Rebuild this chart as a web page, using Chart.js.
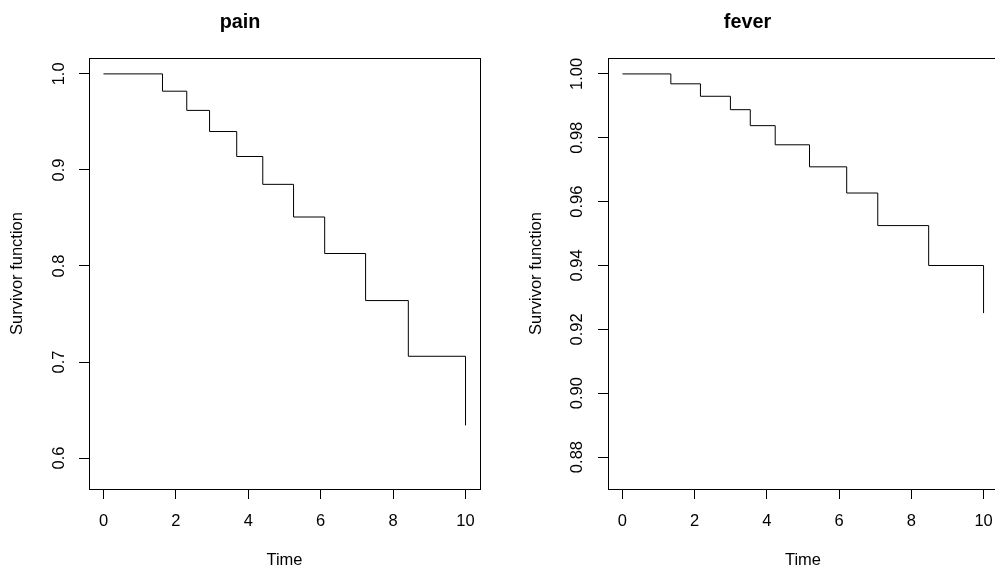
<!DOCTYPE html>
<html>
<head>
<meta charset="utf-8">
<script src="https://cdn.jsdelivr.net/npm/chart.js@4/dist/chart.umd.min.js"></script>
<style>
  html, body { margin: 0; padding: 0; background: #fff; }
  body { width: 995px; height: 571px; overflow: hidden; position: relative; }
  canvas { position: absolute; top: 0; }
  #PainCanvas { left: 0; }
  #FeverCanvas { left: 497px; }
</style>
</head>
<body>
<canvas id="PainCanvas" width="497" height="571"></canvas>
<canvas id="FeverCanvas" width="520" height="571"></canvas>
<script>
// Survivor function estimates
const xTicks = [0, 2, 4, 6, 8, 10]

const painTime = [0, 1.63, 2.30, 2.93, 3.68, 4.40, 5.25, 6.11, 7.24, 8.42, 10]
const painSurv = [1, 0.982, 0.962, 0.940, 0.914, 0.885, 0.851, 0.813, 0.764, 0.706, 0.634]
const painTicks = [0.6, 0.7, 0.8, 0.9, 1.0]
const painTickLabels = ['0.6', '0.7', '0.8', '0.9', '1.0']

const feverTime = [0, 1.34, 2.16, 2.99, 3.54, 4.23, 5.18, 6.21, 7.07, 8.48, 10]
const feverSurv = [1, 0.9969, 0.9930, 0.9888, 0.9838, 0.9778, 0.9709, 0.9627, 0.9525, 0.9400, 0.9251]
const feverTicks = [0.88, 0.90, 0.92, 0.94, 0.96, 0.98, 1.00]
const feverTickLabels = ['0.88', '0.90', '0.92', '0.94', '0.96', '0.98', '1.00']

const FONT = "'Liberation Sans', Arial, Helvetica, sans-serif"

// R style box round the plot region
const boxPlugin = {
    id: 'box',
    afterDatasetsDraw(chart) {
        const { ctx, chartArea: a } = chart
        ctx.save()
        ctx.strokeStyle = '#000'
        ctx.lineWidth = 1
        ctx.strokeRect(Math.round(a.left) + 0.5, Math.round(a.top) + 0.5,
            Math.round(a.right - a.left), Math.round(a.bottom - a.top))
        ctx.restore()
    }
}

//------------------------------------------------------------------------------------------------------------
// Build one Kaplan-Meier style step panel
//------------------------------------------------------------------------------------------------------------
function makePanel(canvas, cfg) {
    return new Chart(canvas, {
        type: 'line',
        data: {
            datasets: [{
                data: cfg.time.map((t, i) => ({ x: t, y: cfg.surv[i] })),
                stepped: true,
                borderColor: '#000',
                borderWidth: 1,
                pointRadius: 0,
                fill: false
            }]
        },
        plugins: [boxPlugin],
        options: {
            responsive: false,
            animation: false,
            layout: { padding: { left: 0, right: cfg.padRight, top: 0, bottom: 0 } },
            plugins: {
                legend: { display: false },
                tooltip: { enabled: false },
                title: {
                    display: true,
                    text: cfg.title,
                    color: '#000',
                    font: { family: FONT, size: 19.8, weight: 'bold' },
                    padding: { top: 11, bottom: 23.2 }
                }
            },
            scales: {
                x: {
                    type: 'linear',
                    min: -0.4,
                    max: 10.4,
                    afterBuildTicks: function(scale) { scale.ticks = xTicks.map(v => ({ value: v })) },
                    afterFit: function(scale) { scale.height = 82 },
                    border: { display: false },
                    grid: { drawOnChartArea: false, drawTicks: true, tickLength: 10, color: '#000', lineWidth: 1 },
                    ticks: { color: '#000', font: { family: FONT, size: 16.5 }, padding: 13, maxRotation: 0, autoSkip: false },
                    title: { display: true, text: 'Time', color: '#000', font: { family: FONT, size: 16.5 }, padding: { top: 0, bottom: 0.5 } }
                },
                y: {
                    type: 'linear',
                    min: cfg.yMin,
                    max: cfg.yMax,
                    afterBuildTicks: function(scale) { scale.ticks = cfg.ticks.map(v => ({ value: v })) },
                    afterFit: function(scale) { scale.width = cfg.axisWidth },
                    border: { display: false },
                    grid: { drawOnChartArea: false, drawTicks: true, tickLength: 10, color: '#000', lineWidth: 1 },
                    ticks: {
                        color: '#000',
                        font: { family: FONT, size: 16.5 },
                        minRotation: 90,
                        maxRotation: 90,
                        crossAlign: 'center',
                        padding: cfg.tickPad,
                        autoSkip: false,
                        callback: function(value) { return cfg.tickLabels[cfg.ticks.indexOf(value)] }
                    },
                    title: { display: true, text: 'Survivor function', color: '#000', font: { family: FONT, size: 16.5 }, padding: { top: cfg.titlePad, bottom: 0 } }
                }
            }
        }
    })
}

makePanel(document.getElementById('PainCanvas'), {
    title: 'pain', time: painTime, surv: painSurv,
    ticks: painTicks, tickLabels: painTickLabels,
    yMin: 0.5678, yMax: 1.0166,
    axisWidth: 89, padRight: 17, tickPad: 8.5, titlePad: 7.6
})

makePanel(document.getElementById('FeverCanvas'), {
    title: 'fever', time: feverTime, surv: feverSurv,
    ticks: feverTicks, tickLabels: feverTickLabels,
    yMin: 0.8700, yMax: 1.0050,
    axisWidth: 111, padRight: 19, tickPad: 4, titlePad: 29.6
})
</script>
</body>
</html>
